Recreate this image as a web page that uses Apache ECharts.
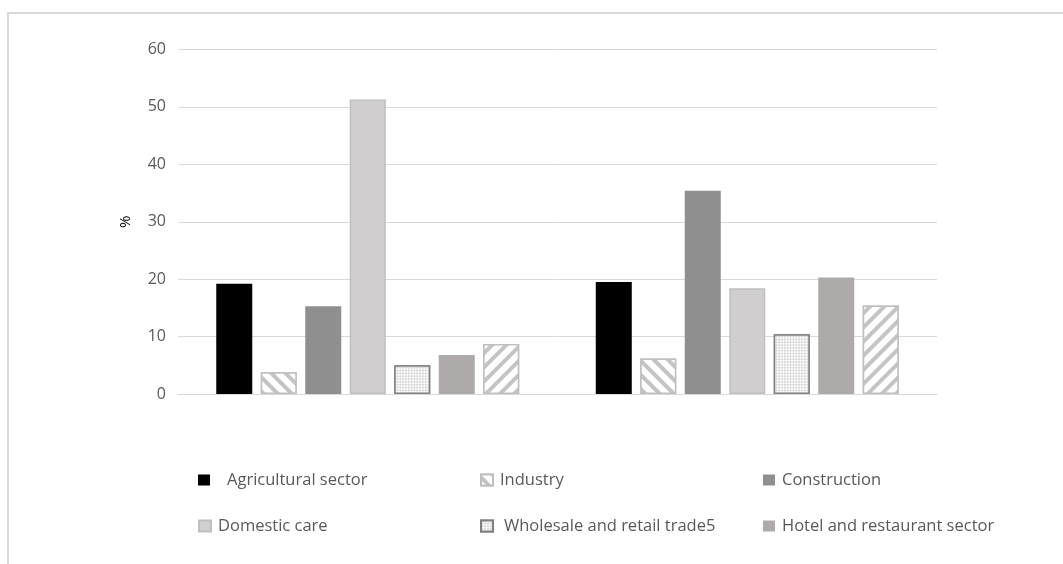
<!DOCTYPE html>
<html><head><meta charset="utf-8">
<script src="https://cdn.jsdelivr.net/npm/echarts@6/dist/echarts.min.js"></script>
<style>html,body{margin:0;padding:0;background:#fff}#c{width:1063px;height:564px}</style>
</head><body><div id="c"></div>
<script>
// ---- data ----
const categories = ['Group 1', 'Group 2'];
const seriesNames = ['Agricultural sector', 'Industry', 'Construction', 'Domestic care',
  'Wholesale and retail trade5', 'Hotel and restaurant sector', 'Other sectors'];
const agricultural = [19.2, 19.5];
const industry = [3.8, 6.2];
const construction = [15.3, 35.4];
const domesticCare = [51.3, 18.4];
const wholesale = [5.0, 10.4];
const hotel = [6.8, 20.3];
const otherSectors = [8.7, 15.4];
const yMin = 0, yMax = 60, yStep = 10;
const yAxisName = '%';

const values = [agricultural, industry, construction, domesticCare, wholesale, hotel, otherSectors];

// ---- styles ----
const stripe = (rot, col) => ({
  symbol: 'rect', symbolSize: 1, dashArrayX: [1, 0], dashArrayY: [4, 6],
  rotation: rot, color: col, backgroundColor: '#ffffff'
});
const styles = [
  { color: '#000000' },
  { color: '#ffffff', borderColor: '#bfbfbf', borderWidth: 1.5, decal: stripe(Math.PI / 4, '#c4c4c4') },
  { color: '#8f8f8f' },
  { color: '#d0cece', borderColor: '#bfbfbf', borderWidth: 1.5 },
  { color: '#ffffff', borderColor: '#808080', borderWidth: 1.5,
    decal: { symbol: 'rect', symbolSize: 1, dashArrayX: [[2, 2], [0, 2, 2, 0]], dashArrayY: [2, 0], rotation: Math.PI / 4, color: '#d6d6d6', backgroundColor: '#ffffff' } },
  { color: '#aeaaaa' },
  { color: '#ffffff', borderColor: '#bfbfbf', borderWidth: 1.5, decal: stripe(-Math.PI / 4, '#c4c4c4') }
];

const FONT = '"Open Sans", "Liberation Sans", sans-serif';

// legend placement: [seriesIndex, left, top, textPadLeft]
const legendPos = [
  [0, 198, 470, 12],
  [1, 480, 470, 2],
  [2, 763, 470, 2],
  [3, 198, 516, 2],
  [4, 480, 516, 6],
  [5, 763, 516, 2]
];

const chart = echarts.init(document.getElementById('c'), null, { renderer: 'canvas' });
chart.setOption({
  animation: false,
  backgroundColor: '#ffffff',
  graphic: [{
    type: 'rect', silent: true, z: -1,
    shape: { x: 8, y: 13, width: 1200, height: 700 },
    style: { fill: 'none', stroke: '#d9d9d9', lineWidth: 2 }
  }],
  grid: { left: 178, right: 126, top: 49.5, bottom: 170, containLabel: false },
  legend: legendPos.map(([i, l, t, p]) => ({
    data: [seriesNames[i]],
    left: l, top: t, padding: 0,
    itemWidth: 12, itemHeight: 11, itemGap: 0,
    icon: 'rect',
    textStyle: { color: '#595959', fontSize: 16.5, fontFamily: FONT, lineHeight: 20, padding: [0, 0, 0, p] },
    selectedMode: false
  })),
  xAxis: {
    type: 'category', data: categories,
    axisLine: { show: true, lineStyle: { color: '#d9d9d9', width: 1 } },
    axisTick: { show: false },
    axisLabel: { show: false },
    splitLine: { show: false }
  },
  yAxis: {
    type: 'value', min: yMin, max: yMax, interval: yStep,
    name: yAxisName, nameLocation: 'middle', nameRotate: 90, nameGap: 45,
    nameTextStyle: { color: '#000000', fontSize: 15, fontFamily: FONT },
    axisLine: { show: false }, axisTick: { show: false },
    axisLabel: { color: '#595959', fontSize: 16, fontFamily: FONT, margin: 12 },
    splitLine: { lineStyle: { color: '#d9d9d9', width: 1 } }
  },
  series: values.map((v, i) => ({
    type: 'bar', name: seriesNames[i], data: v,
    barWidth: 36, barGap: '23.6%',
    itemStyle: styles[i]
  }))
});
</script></body></html>
